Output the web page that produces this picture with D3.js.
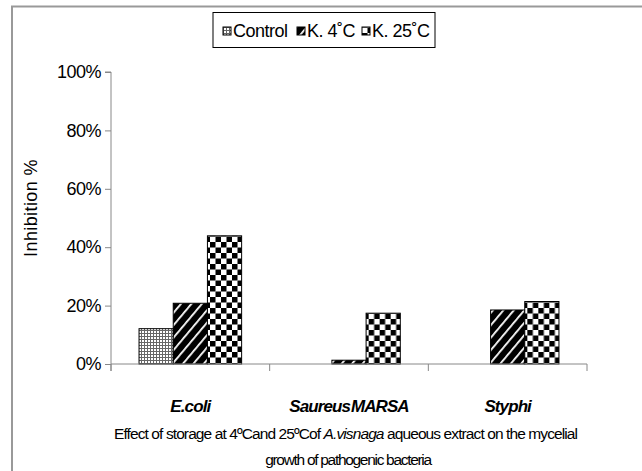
<!DOCTYPE html>
<html>
<head>
<meta charset="utf-8">
<script src="https://cdn.jsdelivr.net/npm/d3@7"></script>
<style>
  body { margin: 0; background: #fff; }
  text { font-family: "Liberation Sans", Arial, sans-serif; fill: #000; }
</style>
</head>
<body>
<script>
(function(d3) {
  "use strict";

  /***** Data *****/
  var categories = ["E.coli", "Saureus MARSA", "Styphi"];
  var series = ["Control", "K. 4˚C", "K. 25˚C"];
  var control = [0.121, 0, 0];
  var k4 = [0.208, 0.013, 0.185];
  var k25 = [0.439, 0.174, 0.214];
  var yTicks = [0, 0.2, 0.4, 0.6, 0.8, 1];

  var values = [control, k4, k25];

  /***** Layout *****/
  var W = 642, H = 471;
  var plot = { left: 111, right: 587, top: 72, bottom: 364 };

  var svg = d3.select("body").append("svg")
    .attr("width", W)
    .attr("height", H);

  // Patterns for the three series
  var defs = svg.append("defs");

  var pDots = defs.append("pattern")
    .attr("id", "pat0").attr("patternUnits", "userSpaceOnUse")
    .attr("width", 3).attr("height", 3);
  pDots.append("rect").attr("width", 3).attr("height", 3).attr("fill", "#fff");
  pDots.append("rect").attr("x", 0).attr("y", 0).attr("width", 3).attr("height", 1).attr("fill", "#666");
  pDots.append("rect").attr("x", 0).attr("y", 0).attr("width", 1).attr("height", 3).attr("fill", "#666");

  var pDiag = defs.append("pattern")
    .attr("id", "pat1").attr("patternUnits", "userSpaceOnUse")
    .attr("width", 8).attr("height", 8)
    .attr("patternTransform", "rotate(40)");
  pDiag.append("rect").attr("width", 8).attr("height", 8).attr("fill", "#000");
  pDiag.append("rect").attr("x", 0).attr("width", 1.8).attr("height", 8).attr("fill", "#fff");

  var pCheck = defs.append("pattern")
    .attr("id", "pat2").attr("patternUnits", "userSpaceOnUse")
    .attr("width", 11).attr("height", 11);
  pCheck.append("rect").attr("width", 11).attr("height", 11).attr("fill", "#fff");
  pCheck.append("rect").attr("width", 5.5).attr("height", 5.5).attr("fill", "#000");
  pCheck.append("rect").attr("x", 5.5).attr("y", 5.5).attr("width", 5.5).attr("height", 5.5).attr("fill", "#000");

  // Outer frame
  svg.append("rect")
    .attr("x", 12).attr("y", 6.5)
    .attr("width", 700).attr("height", 600)
    .attr("fill", "none")
    .attr("stroke", "#999")
    .attr("stroke-width", 2);

  /***** Scales *****/
  var x0 = d3.scaleBand()
    .domain(categories)
    .range([plot.left, plot.right])
    .paddingInner(0).paddingOuter(0);

  var x1 = d3.scaleBand()
    .domain(series)
    .range([0, x0.bandwidth()])
    .paddingInner(0).paddingOuter(0.82);

  var y = d3.scaleLinear().domain([0, 1]).range([plot.bottom, plot.top]);

  /***** Bars *****/
  var groups = svg.append("g").selectAll("g")
    .data(categories)
    .join("g")
    .attr("transform", function(d) { return "translate(" + x0(d) + ",0)"; });

  groups.selectAll("rect")
    .data(function(d, i) {
      return series.map(function(s, j) { return { s: s, j: j, v: values[j][i] }; });
    })
    .join("rect")
    .filter(function(d) { return d.v > 0; })
    .attr("x", function(d) { return x1(d.s); })
    .attr("y", function(d) { return y(d.v); })
    .attr("width", x1.bandwidth())
    .attr("height", function(d) { return y(0) - y(d.v); })
    .attr("fill", function(d) { return "url(#pat" + d.j + ")"; })
    .attr("stroke", "#000")
    .attr("stroke-width", 1);

  /***** Axes *****/
  var yAxis = svg.append("g")
    .attr("transform", "translate(" + plot.left + ",0)")
    .call(d3.axisLeft(y).tickValues(yTicks).tickFormat(d3.format(".0%")).tickSize(6).tickPadding(4));
  yAxis.select(".domain").attr("stroke", "#888").attr("d", "M-6," + plot.top + "H0V" + (plot.bottom + 7));
  yAxis.selectAll(".tick line").attr("stroke", "#888");
  yAxis.selectAll(".tick text")
    .attr("font-size", 18)
    .attr("font-family", "Liberation Sans, Arial, sans-serif")
    .attr("letter-spacing", -0.5);

  var xAxis = svg.append("g")
    .attr("transform", "translate(0," + plot.bottom + ")");
  xAxis.append("line")
    .attr("x1", plot.left).attr("x2", plot.right)
    .attr("stroke", "#888");
  xAxis.selectAll("line.tk")
    .data(categories.concat([null]))
    .join("line")
    .attr("class", "tk")
    .attr("x1", function(d) { return d ? x0(d) : plot.right; })
    .attr("x2", function(d) { return d ? x0(d) : plot.right; })
    .attr("y1", 0).attr("y2", 7)
    .attr("stroke", "#888");

  svg.append("g").selectAll("text")
    .data(categories)
    .join("text")
    .attr("x", function(d) { return x0(d) + x0.bandwidth() / 2; })
    .attr("y", plot.bottom + 48)
    .attr("text-anchor", "middle")
    .attr("font-size", 17)
    .attr("font-weight", "bold")
    .attr("font-style", "italic")
    .attr("letter-spacing", -0.9)
    .attr("word-spacing", -3)
    .text(function(d) { return d; });

  // Y axis title
  svg.append("text")
    .attr("transform", "translate(37,208) rotate(-90)")
    .attr("text-anchor", "middle")
    .attr("font-size", 18)
    .attr("letter-spacing", 0.4)
    .text("Inhibition %");

  // Caption
  var cap1 = svg.append("text")
    .attr("x", 114).attr("y", 439)
    .attr("font-size", 15.5)
    .attr("letter-spacing", -0.9);
  cap1.append("tspan").text("Effect of storage at 4ºCand 25ºCof ");
  cap1.append("tspan").attr("font-style", "italic").text("A.visnaga");
  cap1.append("tspan").text(" aqueous extract  on the mycelial");

  svg.append("text")
    .attr("x", 348).attr("y", 465)
    .attr("text-anchor", "middle")
    .attr("font-size", 15.5)
    .attr("letter-spacing", -1.3)
    .text("growth of pathogenic bacteria");

  /***** Legend *****/
  var legend = svg.append("g");
  legend.append("rect")
    .attr("x", 213).attr("y", 12.5)
    .attr("width", 222).attr("height", 35)
    .attr("fill", "#fff")
    .attr("stroke", "#000");

  var legX = [223, 297, 362];
  var item = legend.selectAll("g")
    .data(series)
    .join("g")
    .attr("transform", function(d, i) { return "translate(" + legX[i] + ",0)"; });
  item.append("rect")
    .attr("x", 0).attr("y", 27)
    .attr("width", 8).attr("height", 8)
    .attr("fill", function(d, i) { return "url(#pat" + i + ")"; })
    .attr("stroke", "#000");
  item.append("text")
    .attr("x", 10).attr("y", 37)
    .attr("font-size", 18)
    .attr("letter-spacing", -0.5)
    .text(function(d) { return d; });
})(d3);
</script>
</body>
</html>
